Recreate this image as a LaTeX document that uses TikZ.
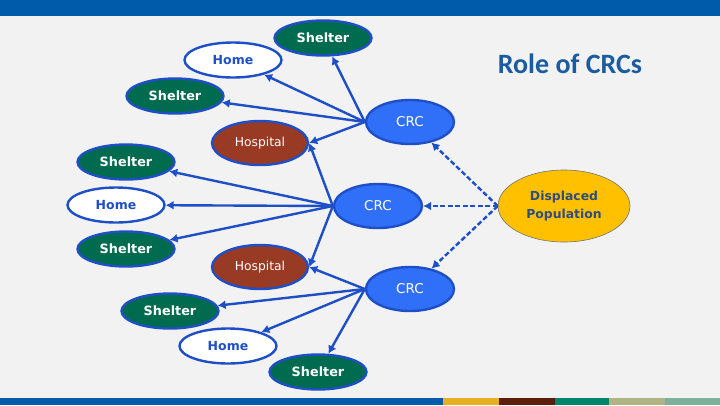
\documentclass[tikz,border=0pt]{standalone}
\usepackage{fontspec}
\setmainfont{DejaVu Sans}
\newfontfamily\titlefont{Carlito}
\usetikzlibrary{arrows.meta,shapes.geometric}
\usepackage{xcolor}

\definecolor{barblue}{HTML}{005BAA}
\definecolor{pagebg}{HTML}{F2F2F2}
\definecolor{edgeblue}{HTML}{1F4FC6}
\definecolor{sheltergreen}{HTML}{006B4E}
\definecolor{crcblue}{HTML}{3070F8}
\definecolor{hospred}{HTML}{993A24}
\definecolor{popyellow}{HTML}{FFC000}
\definecolor{poptext}{HTML}{2E4E80}
\definecolor{titleblue}{HTML}{1B5C9E}

\begin{document}
\begin{tikzpicture}[
  x=1pt, y=-1pt,
  place/.style={ellipse, draw=edgeblue, line width=2.4pt, inner sep=0pt, minimum width=97pt, minimum height=35pt},
  shelter/.style={place, fill=sheltergreen, text=white, font=\fontsize{12.8}{14}\selectfont\bfseries},
  home/.style={place, fill=white, text=edgeblue, font=\fontsize{12.5}{14}\selectfont\bfseries},
  hospital/.style={place, fill=hospred, text=white, minimum width=96pt, minimum height=44pt, font=\fontsize{12.3}{14}\selectfont},
  crc/.style={place, fill=crcblue, text=white, minimum width=88pt, minimum height=44pt, font=\fontsize{13.5}{15}\selectfont},
  link/.style={draw=edgeblue, line width=2.4pt, -{Latex[length=8pt,width=9pt]}},
  feed/.style={link, dash pattern=on 5pt off 2.5pt}
]
% page and bars
\useasboundingbox (0,0) rectangle (720,405);
\fill[pagebg] (0,0) rectangle (720,405);
\fill[barblue] (0,0) rectangle (720,16);
\fill[barblue] (0,398) rectangle (443,405);
\fill[color={rgb,255:red,232;green,176;blue,32}] (443,398) rectangle (499,405);
\fill[color={rgb,255:red,90;green,30;blue,10}] (499,398) rectangle (555,405);
\fill[color={rgb,255:red,0;green,134;blue,106}] (555,398) rectangle (609,405);
\fill[color={rgb,255:red,176;green,181;blue,132}] (609,398) rectangle (665,405);
\fill[color={rgb,255:red,127;green,176;blue,155}] (665,398) rectangle (720,405);

\node[text=titleblue, font=\titlefont\bfseries\fontsize{28}{30}\selectfont] (title) at (570,64) {Role of CRCs};

% first CRC and its places
\node[crc] (crcTop) at (410,122) {CRC};
\node[shelter] (shelterTop) at (323,38) {Shelter};
\node[home] (homeTop) at (233,60) {Home};
\node[shelter] (shelterUpper) at (175,96) {Shelter};
\node[hospital] (hospitalTop) at (260,143) {Hospital};

% second CRC
\node[crc] (crcMid) at (378,206) {CRC};
\node[shelter] (shelterLeftA) at (126,162) {Shelter};
\node[home] (homeMid) at (116,205) {Home};
\node[shelter] (shelterLeftB) at (126,249) {Shelter};
\node[hospital] (hospitalLow) at (260,267) {Hospital};

% third CRC
\node[crc] (crcLow) at (410,289) {CRC};
\node[shelter] (shelterLow) at (170,311) {Shelter};
\node[home] (homeLow) at (228,346) {Home};
\node[shelter] (shelterBottom) at (318,372) {Shelter};

\node[ellipse, fill=popyellow, draw=black!55, line width=0.6pt, inner sep=0pt,
  minimum width=132pt, minimum height=72pt, align=center, text=poptext,
  font=\fontsize{12.4}{18}\selectfont\bfseries] (displaced) at (564,206) {Displaced\\Population};

\draw[link] (crcTop.west) -- (shelterTop);
\draw[link] (crcTop.west) -- (homeTop);
\draw[link] (crcTop.west) -- (shelterUpper);
\draw[link] (crcTop.west) -- (hospitalTop.east);

\draw[link] (crcMid.west) -- (hospitalTop.east);
\draw[link] (crcMid.west) -- (shelterLeftA);
\draw[link] (crcMid.west) -- (homeMid);
\draw[link] (crcMid.west) -- (shelterLeftB);
\draw[link] (crcMid.west) -- (hospitalLow.east);

\draw[link] (crcLow.west) -- (hospitalLow.east);
\draw[link] (crcLow.west) -- (shelterLow);
\draw[link] (crcLow.west) -- (homeLow);
\draw[link] (crcLow.west) -- (shelterBottom);

\draw[feed] (displaced.west) -- (crcTop);
\draw[feed] (displaced.west) -- (crcMid);
\draw[feed] (displaced.west) -- (crcLow);
\end{tikzpicture}
\end{document}
